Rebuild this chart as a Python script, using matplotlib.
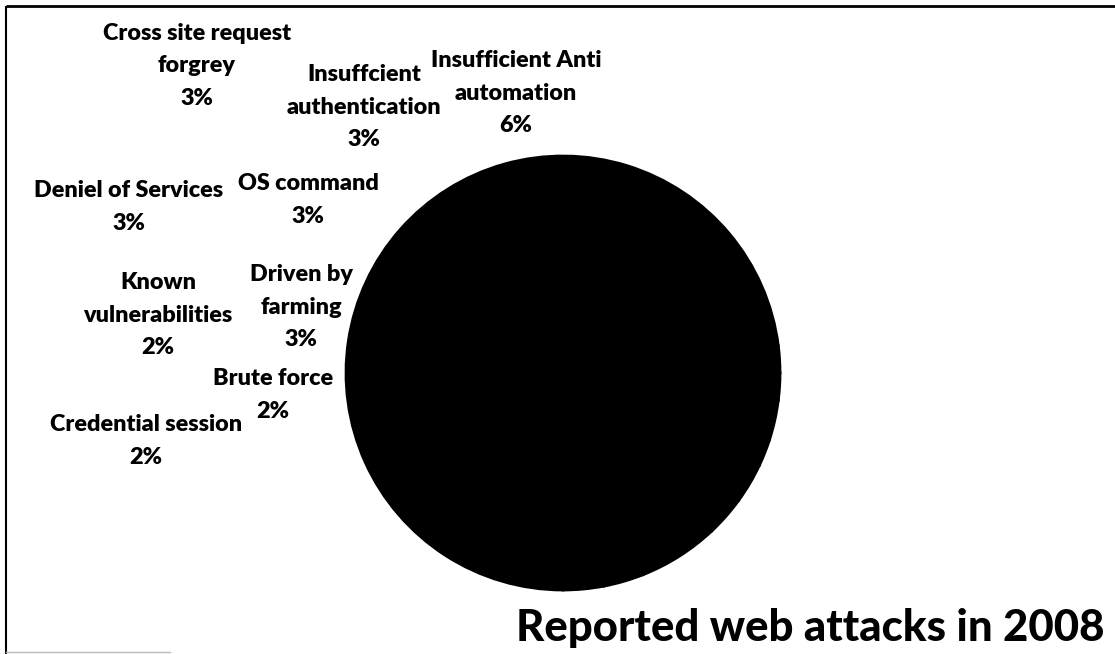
import numpy as np
import matplotlib
matplotlib.use('Agg')
import matplotlib.pyplot as plt

plt.rcParams['font.family'] = ['Lato', 'DejaVu Sans']

# slice shares (percent); the remainder of the pie carries no label
attacks = ['Cross site request\nforgrey', 'Insuffcient\nauthentication',
           'Insufficient Anti\nautomation', 'Deniel of Services',
           'OS command', 'Known\nvulnerabilities', 'Driven by\nfarming',
           'Brute force', 'Credential session']
shares = [3, 3, 6, 3, 3, 2, 3, 2, 2]
rest = 100 - sum(shares)

# label block centres in figure pixels (x right, y down)
label_xy = [(197, 66), (364, 107), (516, 93), (129, 207), (308, 200),
            (158, 315), (301, 307), (273, 395), (146, 441)]

W, H = 1115, 654
fig = plt.figure(figsize=(W / 100, H / 100), dpi=100)
ax = fig.add_axes([0, 0, 1, 1])

# every slice printed black, edges drawn black so no seams show
ax.pie(shares + [rest], colors=['black'] * (len(shares) + 1),
       center=(563, 373), radius=217, startangle=90, counterclock=False,
       wedgeprops=dict(edgecolor='black', linewidth=2), frame=True)

for name, v, (x, y) in zip(attacks, shares, label_xy):
    ax.text(x, y, f'{name}\n{v}%', ha='center', va='center',
            fontsize=16.8, fontweight='heavy', linespacing=1.68,
            color='black')

ax.text(1105, 641, 'Reported web attacks in 2008', ha='right',
        va='baseline', fontsize=31.5, fontweight='black', color='black')

# page frame: top and left rules
ax.plot([6, W], [6, 6], color='black', linewidth=2, solid_capstyle='butt')
ax.plot([6, 6], [6, H], color='black', linewidth=1.5, solid_capstyle='butt')
ax.plot([6, 170], [652, 652], color='#bbbbbb', linewidth=1)

ax.set_xlim(0, W)
ax.set_ylim(H, 0)
ax.set_aspect('equal')
ax.axis('off')

fig.savefig('out.png', dpi=100)
